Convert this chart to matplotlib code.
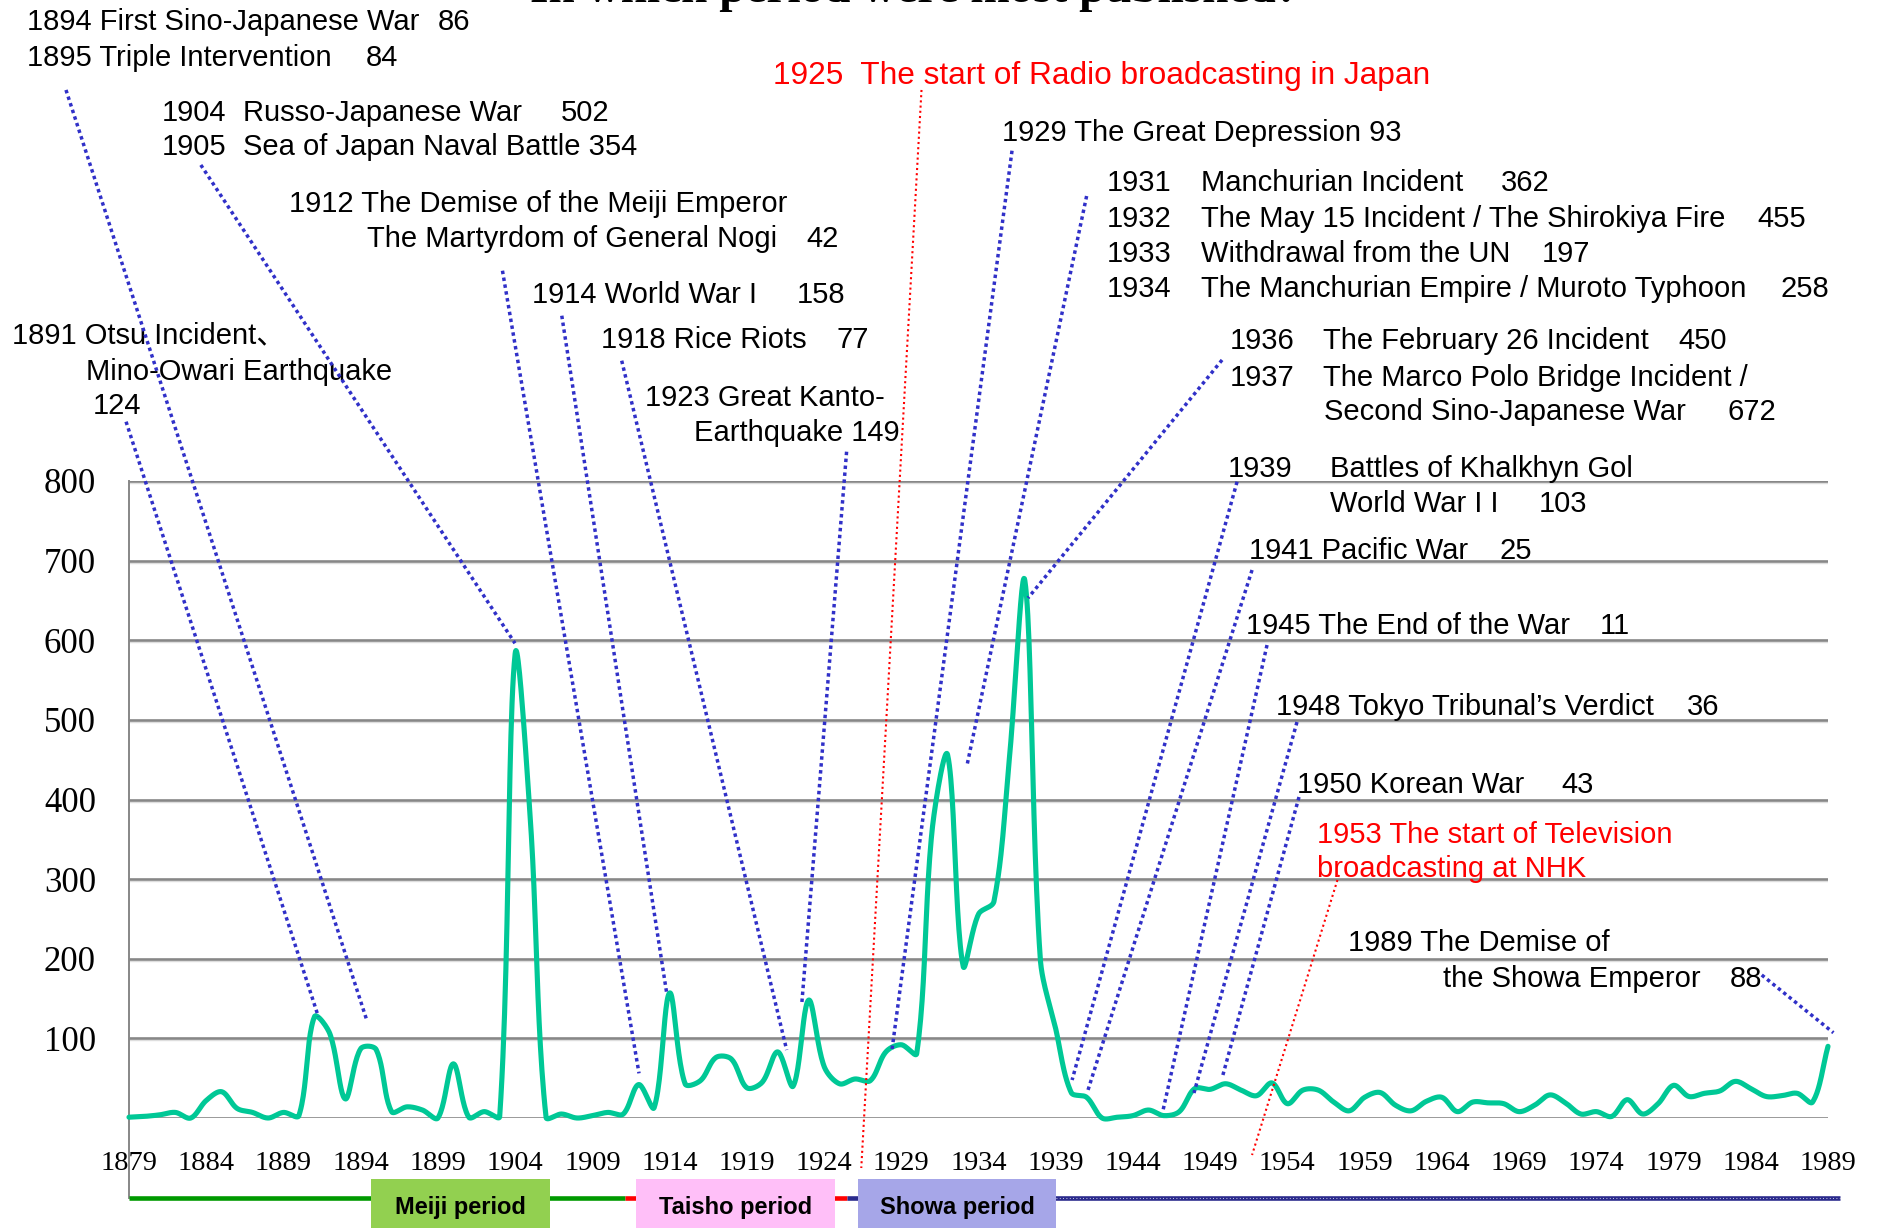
import numpy as np
import matplotlib
matplotlib.use('Agg')
import matplotlib.pyplot as plt
from matplotlib.patches import Rectangle
from matplotlib.transforms import offset_copy

# number of titles per year
years = np.arange(1879, 1990)
counts = [1, 2, 4, 7, 0, 22, 33, 12, 7, 0,
          7, 3, 127, 106, 24, 87, 86, 8, 14, 10,
          0, 68, 1, 8, 2, 583, 370, 1, 5, 0,
          3, 7, 5, 42, 13, 157, 43, 47, 76, 74,
          38, 45, 83, 40, 148, 65, 43, 49, 47, 83,
          92, 81, 362, 456, 191, 256, 272, 452, 675, 200,
          112, 32, 26, 0, 1, 3, 10, 3, 8, 37,
          36, 43, 35, 28, 44, 18, 35, 35, 20, 9,
          26, 32, 16, 9, 21, 26, 8, 20, 19, 18,
          8, 16, 29, 19, 5, 8, 2, 23, 5, 18,
          41, 27, 31, 34, 46, 37, 27, 28, 31, 20,
          90]

# eras shown under the axis
periods = ['Meiji period', 'Taisho period', 'Showa period']
period_lines = [(1879, 1911.1), (1911.1, 1925.5), (1925.5, 1989.8)]
line_colors = ['#009900', '#ff0000', '#2a2a8c']
box_colors = ['#92d050', '#ffbff8', '#a6a6e8']
box_spans = [(1894.7, 1906.25), (1911.8, 1924.7), (1926.2, 1939.05)]

# event labels: (x in years, y in counts, text)
labels = [
    (1872.40, 1379.0, '1894 First Sino-Japanese War'), (1898.98, 1379.0, '86'),
    (1872.40, 1335.0, '1895 Triple Intervention'), (1894.33, 1335.0, '84'),
    (1881.13, 1265.9, '1904'), (1886.37, 1265.9, 'Russo-Japanese War'), (1906.94, 1265.9, '502'),
    (1881.13, 1222.0, '1905'), (1886.37, 1222.0, 'Sea of Japan Naval Battle 354'),
    (1935.51, 1240.8, '1929 The Great Depression 93'),
    (1889.36, 1150.8, '1912 The Demise of the Meiji Emperor'),
    (1894.40, 1106.8, 'The Martyrdom of General Nogi'), (1922.83, 1106.8, '42'),
    (1942.32, 1176.8, '1931'), (1948.41, 1176.8, 'Manchurian Incident'), (1967.83, 1176.8, '362'),
    (1942.32, 1131.9, '1932'), (1948.41, 1131.9, 'The May 15 Incident / The Shirokiya Fire'),
    (1984.44, 1131.9, '455'),
    (1942.32, 1088.0, '1933'), (1948.41, 1088.0, 'Withdrawal from the UN'), (1970.45, 1088.0, '197'),
    (1942.32, 1044.0, '1934'), (1948.41, 1044.0, 'The Manchurian Empire / Muroto Typhoon'),
    (1985.90, 1044.0, '258'),
    (1905.12, 1036.5, '1914 World War I'), (1922.25, 1036.5, '158'),
    (1909.54, 980.5, '1918 Rice Riots'), (1924.78, 980.5, '77'),
    (1871.42, 985.9, '1891 Otsu Incident、'),
    (1876.20, 940.3, 'Mino-Owari Earthquake'),
    (1876.66, 897.6, '124'),
    (1912.38, 908.0, '1923 Great Kanto-'),
    (1915.56, 862.8, 'Earthquake 149'),
    (1950.24, 979.2, '1936'), (1956.31, 979.2, 'The February 26 Incident'), (1979.31, 979.2, '450'),
    (1950.24, 933.1, '1937'), (1956.31, 933.1, 'The Marco Polo Bridge Incident /'),
    (1956.37, 889.2, 'Second Sino-Japanese War'), (1982.50, 889.2, '672'),
    (1950.16, 818.0, '1939'), (1956.76, 818.0, 'Battles of Khalkhyn Gol'),
    (1956.76, 774.0, 'World War I I'), (1970.29, 774.0, '103'),
    (1951.52, 715.5, '1941 Pacific War'), (1967.73, 715.5, '25'),
    (1951.32, 621.3, '1945 The End of the War'), (1974.24, 621.3, '11'),
    (1953.26, 519.9, '1948 Tokyo Tribunal’s Verdict'), (1979.87, 519.9, '36'),
    (1954.62, 421.1, '1950 Korean War'), (1971.72, 421.1, '43'),
    (1957.91, 222.7, '1989 The Demise of'),
    (1964.10, 178.3, 'the Showa Emperor'), (1982.66, 178.3, '88'),
]
red_labels = [
    (1920.72, 1312.0, '1925  The start of Radio broadcasting in Japan', 22.8),
    (1955.92, 358.3, '1953 The start of Television', 21),
    (1955.92, 315.6, 'broadcasting at NHK', 21),
]

# leader lines from the labels down to the curve
leaders = [
    ((1874.92, 1291.1), (1894.39, 123.1)),
    ((1878.81, 874.5), (1891.26, 127.2)),
    ((1883.65, 1196.9), (1903.99, 596.2)),
    ((1903.18, 1064.1), (1912.02, 56.1)),
    ((1907.02, 1007.6), (1913.81, 157.0)),
    ((1910.90, 951.1), (1921.58, 85.4)),
    ((1925.46, 836.8), (1922.55, 141.5)),
    ((1936.17, 1214.8), (1928.38, 82.9)),
    ((1941.00, 1157.9), (1933.26, 443.3)),
    ((1949.77, 952.0), (1937.21, 653.1)),
    ((1950.74, 799.1), (1940.06, 47.7)),
    ((1951.71, 688.2), (1941.03, 31.4)),
    ((1952.68, 594.0), (1945.95, 10.0)),
    ((1954.62, 497.3), (1947.95, 31.4)),
    ((1954.75, 403.1), (1949.77, 50.2)),
    ((1984.71, 179.6), (1989.35, 107.1)),
]
red_leaders = [
    ((1930.31, 1291.1), (1926.41, -62.8)),
    ((1957.34, 305.2), (1951.71, -46.5)),
]

W, H = 1881, 1228
AX_W, AX_H = 1699, 637


def smooth(x, y, n=24):
    # bezier through every point; handles are scaled by the on-screen segment
    # lengths, so a short step next to a tall one does not swing below zero
    kx = AX_W / (x[-1] - x[0])
    ky = AX_H / 800
    P = np.column_stack([np.asarray(x, float) * kx, np.asarray(y, float) * ky])
    E = np.vstack([2 * P[0] - P[1], P, 2 * P[-1] - P[-2]])
    L = np.linalg.norm(np.diff(E, axis=0), axis=1)
    t = np.linspace(0, 1, n, endpoint=False)[:, None]
    segs = []
    for i in range(len(P) - 1):
        a, b, c, d = E[i], E[i + 1], E[i + 2], E[i + 3]
        c1 = b + (c - a) * L[i + 1] / (L[i] + L[i + 1]) / 3
        c2 = c - (d - b) * L[i + 1] / (L[i + 1] + L[i + 2]) / 3
        segs.append((1 - t) ** 3 * b + 3 * (1 - t) ** 2 * t * c1
                    + 3 * (1 - t) * t ** 2 * c2 + t ** 3 * c)
    pts = np.vstack(segs + [P[-1:]])
    return pts[:, 0] / kx, pts[:, 1] / ky


plt.rcParams['font.family'] = ['Liberation Sans', 'Noto Sans CJK JP']

fig = plt.figure(figsize=(W / 100, H / 100), dpi=100)
ax = fig.add_axes([129 / W, 110 / H, AX_W / W, AX_H / H])
ax.set_xlim(1879, 1989)
ax.set_ylim(0, 800)
for s in ax.spines.values():
    s.set_visible(False)

for v in range(0, 801, 100):
    ax.axhline(v, color='#878787', lw=1.9, zorder=1)
    ax.axhline(v - 2.6, color='#dedede', lw=1.0, zorder=0.9)
ax.plot([1879, 1879], [800, -100.5], color='#878787', lw=1.4, clip_on=False, zorder=1)

ax.set_xticks(years[::5])
ax.set_xticklabels([str(y) for y in years[::5]], fontfamily='Liberation Serif', fontsize=20.5)
ax.set_yticks(range(100, 801, 100))
ax.set_yticklabels([str(v) for v in range(100, 801, 100)], fontfamily='Liberation Serif', fontsize=25)
ax.tick_params(axis='x', length=0, pad=23.5)
ax.tick_params(axis='y', length=0, pad=23.8)

sx, sy = smooth(years, counts)
ax.plot(sx, sy, color='#00c896', lw=3.7, zorder=3, clip_on=False, solid_capstyle='round')

for (x0, y0), (x1, y1) in leaders:
    ax.plot([x0, x1], [y0, y1], color='#3030c8', lw=2.5, linestyle=(0, (1, 1)),
            clip_on=False, zorder=4)
for (x0, y0), (x1, y1) in red_leaders:
    ax.plot([x0, x1], [y0, y1], color='#ff0000', lw=1.5, linestyle=(0, (1, 1.5)),
            clip_on=False, zorder=4)

text_tr = offset_copy(ax.transData, fig=fig, y=-2.5, units='dots')
for x, y, s in labels:
    ax.text(x, y, s, fontsize=21, va='center', ha='left', clip_on=False, transform=text_tr)
for x, y, s, fs in red_labels:
    ax.text(x, y, s, fontsize=fs, va='center', ha='left', color='#ff0000', clip_on=False,
            transform=text_tr)

# era bar
for (a, b), c in zip(period_lines, line_colors):
    ax.plot([a, b], [-100.5, -100.5], color=c, lw=3.3, clip_on=False, solid_capstyle='butt')
ax.plot([1939, 1989.8], [-100.5, -100.5], color='white', lw=0.6, linestyle=(0, (1, 3)), clip_on=False)
for name, (a, b), c in zip(periods, box_spans, box_colors):
    ax.add_patch(Rectangle((a, -140), b - a, 63.5, facecolor=c, edgecolor='none',
                           clip_on=False, zorder=5))
    ax.text((a + b) / 2, -112, name, ha='center', va='center', fontsize=17,
            fontweight='bold', clip_on=False, zorder=6)

fig.text(915 / W, 1 - 1.5 / H, 'In which period were most published?', ha='center', va='baseline',
         fontfamily='Liberation Serif', fontweight='bold', fontsize=34)

fig.savefig('out.png', dpi=100)
